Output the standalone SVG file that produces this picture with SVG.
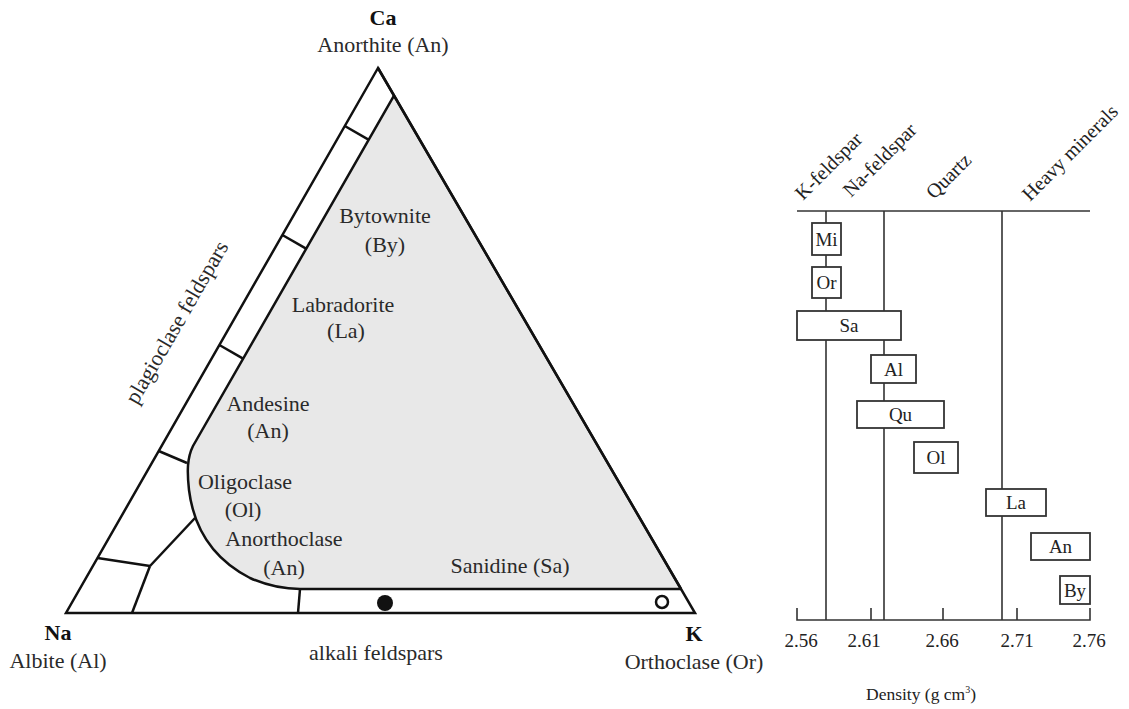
<svg xmlns="http://www.w3.org/2000/svg" width="1129" height="709" viewBox="0 0 1129 709">
<style>
.t{font-family:"Liberation Serif","Times New Roman",serif;font-size:22px;fill:#2a2a2a;text-anchor:middle}
.b{font-weight:bold;fill:#111}
.ln{stroke:#111;stroke-width:2.5;fill:none;stroke-linejoin:miter}
.c{font-family:"Liberation Serif","Times New Roman",serif;font-size:19px;fill:#222;text-anchor:middle}
.r{font-family:"Liberation Serif","Times New Roman",serif;font-size:20px;fill:#222;text-anchor:start}
.cl{stroke:#333;stroke-width:1.6;fill:none}
.bx{stroke:#333;stroke-width:1.8;fill:#fff}
</style>
<rect width="1129" height="709" fill="#fff"/>
<g id="triangle">
<polygon points="378,68 66,613 695,613" fill="#fff" stroke="none"/>
<path id="gray-region" d="M394,95.7 L681,589 L300,589 C285,589 268,586 250,578 C215,560 194,530 189,490 C187,472 187,458 193,446 Z" fill="#e8e8e8" stroke="none"/>
<path class="ln" d="M394,95.7 L193,446 C187,458 187,472 189,490 C194,530 215,560 250,578 C268,586 285,589 300,589 L681,589"/>
<polygon class="ln" points="378,68 66,613 695,613"/>
<line class="ln" x1="378" y1="68" x2="681" y2="589" stroke-width="3.5"/>
<g id="dividers">
<line class="ln" x1="344.8" y1="126" x2="368.9" y2="139.8"/>
<line class="ln" x1="282.4" y1="235" x2="306.5" y2="248.8"/>
<line class="ln" x1="219.4" y1="345" x2="243.5" y2="358.8"/>
<line class="ln" x1="158.7" y1="451" x2="187" y2="463"/>
<line class="ln" x1="97.5" y1="558" x2="150" y2="566"/>
<line class="ln" x1="150" y1="566" x2="132" y2="613"/>
<line class="ln" x1="150" y1="566" x2="195" y2="518"/>
<line class="ln" x1="300" y1="589" x2="298" y2="613"/>
</g>
<circle cx="385" cy="603" r="8" fill="#111"/>
<circle cx="662" cy="602" r="6" fill="#fff" stroke="#111" stroke-width="2.5"/>
</g>
<g id="triangle-labels">
<text class="t b" x="383" y="25">Ca</text>
<text class="t" x="383" y="52">Anorthite (An)</text>
<text class="t b" x="58" y="640">Na</text>
<text class="t" x="58" y="668">Albite (Al)</text>
<text class="t b" x="694" y="641">K</text>
<text class="t" x="694" y="669">Orthoclase (Or)</text>
<text class="t" x="376" y="660">alkali feldspars</text>
<text class="t" x="183" y="326" transform="rotate(-60 183 326)">plagioclase feldspars</text>
<text class="t" x="385" y="223">Bytownite</text>
<text class="t" x="385" y="252">(By)</text>
<text class="t" x="343" y="312">Labradorite</text>
<text class="t" x="346" y="338">(La)</text>
<text class="t" x="268" y="411">Andesine</text>
<text class="t" x="268" y="438">(An)</text>
<text class="t" x="245" y="489">Oligoclase</text>
<text class="t" x="243" y="517">(Ol)</text>
<text class="t" x="284" y="546">Anorthoclase</text>
<text class="t" x="284" y="575">(An)</text>
<text class="t" x="510" y="573">Sanidine (Sa)</text>
</g>
<g id="chart-lines">
<line class="cl" x1="797" y1="211" x2="1090" y2="211"/>
<line class="cl" x1="826" y1="211" x2="826" y2="620"/>
<line class="cl" x1="884" y1="211" x2="884" y2="620"/>
<line class="cl" x1="1002" y1="211" x2="1002" y2="620"/>
<path class="cl" d="M797,608 V620 H1090 V608 M871,608 V620 M943,608 V620 M1017,608 V620"/>
</g>
<g id="chart-headers">
<text class="r" x="803" y="201" transform="rotate(-45 803 201)">K-feldspar</text>
<text class="r" x="851" y="198" transform="rotate(-45 851 198)">Na-feldspar</text>
<text class="r" x="934" y="200" transform="rotate(-45 934 200)">Quartz</text>
<text class="r" x="1030" y="202" transform="rotate(-45 1030 202)">Heavy minerals</text>
</g>
<g id="box-Mi"><rect class="bx" x="812" y="223" width="29" height="32"/><text class="c" x="826.5" y="246">Mi</text></g>
<g id="box-Or"><rect class="bx" x="812" y="267" width="29" height="31"/><text class="c" x="826.5" y="289">Or</text></g>
<g id="box-Sa"><rect class="bx" x="797" y="311" width="104" height="29"/><text class="c" x="849" y="332">Sa</text></g>
<g id="box-Al"><rect class="bx" x="871" y="355" width="45" height="28"/><text class="c" x="893.5" y="376">Al</text></g>
<g id="box-Qu"><rect class="bx" x="857" y="401" width="87" height="27"/><text class="c" x="900.5" y="421">Qu</text></g>
<g id="box-Ol"><rect class="bx" x="914" y="442" width="44" height="31"/><text class="c" x="936" y="464">Ol</text></g>
<g id="box-La"><rect class="bx" x="986" y="489" width="60" height="27"/><text class="c" x="1016" y="509">La</text></g>
<g id="box-An"><rect class="bx" x="1031" y="533" width="59" height="27"/><text class="c" x="1060.5" y="553">An</text></g>
<g id="box-By"><rect class="bx" x="1060" y="576" width="30" height="28"/><text class="c" x="1075" y="597">By</text></g>
<g id="axis-labels">
<text class="c" x="801" y="647">2.56</text>
<text class="c" x="864" y="647">2.61</text>
<text class="c" x="942" y="647">2.66</text>
<text class="c" x="1017" y="647">2.71</text>
<text class="c" x="1089" y="647">2.76</text>
<text class="c" x="921" y="700" style="font-size:17.5px">Density (g cm<tspan font-size="10" dy="-7">3</tspan><tspan dy="7">)</tspan></text>
</g>
</svg>
